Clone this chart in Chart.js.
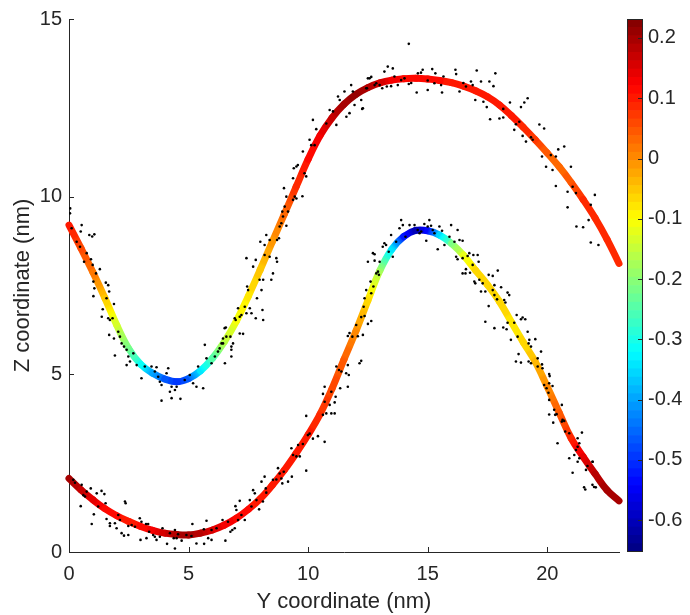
<!DOCTYPE html>
<html><head><meta charset="utf-8">
<script src="https://cdn.jsdelivr.net/npm/chart.js@4/dist/chart.umd.min.js"></script>
<style>
html,body{margin:0;padding:0;background:#fff;}
#wrap{position:relative;width:690px;height:615px;}
canvas{position:absolute;left:0;top:0;}
</style></head><body>
<div id="wrap"><canvas id="main" width="690" height="615"></canvas><canvas id="cbar" width="690" height="615"></canvas></div>
<script>
// ---- data ----
const curveX = [0,0.5,1,1.5,2,2.5,3,3.5,4,4.5,5,5.5,6,6.5,7,7.5,8,8.5,9,9.5,10,10.5,11,11.5,12,12.5,13,13.5,14,14.5,15,15.5,16,16.5,17,17.5,18,18.5,19,19.5,20,20.5,21,21.5,22,22.5,23];
const upperZ = [9.2,8.55,7.87,7.15,6.38,5.72,5.28,5.03,4.87,4.79,4.88,5.1,5.45,5.92,6.5,7.2,7.95,8.73,9.5,10.28,11.05,11.72,12.22,12.6,12.88,13.07,13.2,13.28,13.32,13.33,13.31,13.27,13.21,13.11,12.98,12.81,12.58,12.28,11.95,11.6,11.23,10.84,10.4,9.92,9.4,8.8,8.12];
const upperC = [0.10,0.06,0.02,-0.05,-0.14,-0.22,-0.31,-0.40,-0.46,-0.50,-0.46,-0.34,-0.25,-0.16,-0.11,-0.08,-0.05,-0.01,0.03,0.08,0.11,0.13,0.17,0.20,0.21,0.19,0.16,0.13,0.12,0.11,0.11,0.11,0.10,0.10,0.10,0.10,0.10,0.10,0.09,0.07,0.04,0.03,0.05,0.08,0.09,0.09,0.09];
const lowerZ = [2.07,1.75,1.47,1.22,1.02,0.86,0.72,0.61,0.53,0.49,0.48,0.53,0.62,0.76,0.95,1.2,1.5,1.88,2.3,2.78,3.3,3.88,4.6,5.42,6.22,7.08,7.92,8.52,8.88,9.05,9.04,8.92,8.68,8.35,7.93,7.52,7.05,6.47,5.9,5.35,4.65,3.92,3.2,2.68,2.2,1.74,1.44];
const lowerC = [0.20,0.17,0.14,0.12,0.11,0.10,0.11,0.13,0.16,0.19,0.20,0.18,0.15,0.13,0.12,0.11,0.10,0.10,0.10,0.10,0.10,0.08,0.06,0.04,0.00,-0.07,-0.18,-0.34,-0.52,-0.61,-0.53,-0.35,-0.22,-0.12,-0.07,-0.06,-0.06,-0.08,-0.07,-0.04,0.00,0.04,0.09,0.14,0.18,0.20,0.20];

const upperDots = [[0.04,9.53],[0.05,9.67],[0.11,9.11],[0.53,9.2],[0.49,9.02],[0.85,8.92],[0.97,8.88],[1.06,8.94],[0.32,8.73],[0.46,8.59],[0.63,8.17],[0.74,8.41],[0.92,8.24],[0.99,8.08],[1.13,7.84],[1.29,7.96],[1.02,7.61],[1.06,7.42],[1.02,7.2],[1.54,7.58],[1.64,7.51],[1.68,7.33],[1.57,7.14],[1.41,6.83],[1.88,6.98],[1.37,6.62],[1.64,6.58],[1.71,6.53],[1.82,6.58],[1.68,6.11],[1.88,6.01],[2.06,6.2],[2.13,6.06],[2.2,5.87],[1.92,5.53],[2.3,5.78],[2.41,5.69],[2.48,5.5],[2.41,5.26],[2.55,5.36],[2.69,5.59],[2.83,5.26],[3.03,4.89],[3.17,5.22],[3.45,5.22],[3.59,5.08],[3.66,5.2],[3.73,4.93],[3.8,4.79],[3.87,4.7],[4.15,5.17],[4.08,5.03],[4.29,4.65],[4.22,4.51],[4.43,4.56],[4.5,4.65],[3.87,4.26],[4.29,4.33],[4.66,4.31],[4.84,4.84],[5.05,4.98],[5.19,4.75],[5.33,4.65],[5.61,4.61],[5.4,5.22],[5.68,5.83],[5.75,5.45],[5.96,5.31],[6.1,5.5],[6.23,5.64],[6.3,5.73],[6.38,5.87],[6.44,6.01],[6.56,6.32],[6.52,5.31],[6.75,6.06],[6.79,5.69],[6.79,5.5],[6.97,6.53],[6.86,5.87],
[6.51,6.3],[6.58,6.06],[6.44,5.87],[6.79,5.78],[6.93,6.58],[7.07,6.86],[7.14,6.62],[7.21,6.67],[7.35,6.9],[7.42,6.72],[7.56,6.86],[7.63,6.72],[7.14,6.15],[7.28,6.14],[7.81,6.58],[8.09,6.81],[8.12,6.53],[7.42,8.27],[7.7,8.03],[7.81,8.22],[7.45,7.47],[7.49,7.37],[7.86,7.14],[7.97,7.66],[8.05,7.37],[8.12,7.66],[8.18,8.36],[8.39,8.31],[8.46,7.66],[8.53,7.84],[8.67,8.27],[8.7,8.17],[8.0,8.73],[8.18,8.64],[8.25,8.92],[8.39,8.78],[8.7,8.78],[8.78,8.83],[8.81,9.16],[8.88,9.25],[8.95,9.44],[9.09,9.18],[8.92,9.58],[9.02,9.72],[9.16,9.58],[9.09,10.0],[9.37,9.91],[9.44,10.0],[9.51,9.95],[9.76,10.01],[8.99,10.24],[9.37,10.52],[9.4,10.8],[9.51,10.85],[9.57,10.89],[9.85,10.66],[9.92,10.57],[9.78,11.27],[10.06,11.6],[10.13,11.45],[10.27,11.45],[10.34,11.9],[10.2,12.16],[10.76,12.06],[10.9,12.44],[11.04,12.4],[11.18,12.02],[11.25,12.82],[11.32,12.72],[11.52,12.96],[11.6,12.25],[11.73,12.35],[11.8,13.14],[11.87,12.96],[11.94,12.58],[12.22,12.72],[12.29,12.49],[12.43,13.05],[12.5,13.33],[12.64,13.37],[12.85,13.19],
[12.26,12.47],[12.46,13.05],[12.57,13.33],[12.78,13.14],[12.99,13.14],[13.1,13.05],[13.19,13.52],[13.33,13.66],[13.54,13.61],[13.29,13.1],[13.47,13.11],[13.61,13.38],[13.75,13.14],[13.89,13.28],[14.03,13.33],[14.21,14.3],[14.21,13.17],[14.31,13.2],[14.59,13.47],[14.54,12.93],[14.72,13.49],[14.79,13.57],[15.0,13.0],[15.0,13.27],[15.19,13.59],[15.32,13.47],[15.28,13.19],[15.56,13.14],[15.6,12.93],[15.66,13.38],[16.16,13.57],[16.19,13.45],[16.33,12.96],[16.49,13.2],[16.6,13.1],[16.81,13.24],[16.88,13.14],[16.99,12.72],[17.05,13.55],[17.23,13.24],[17.33,12.67],[17.47,12.52],[17.58,13.24],[17.75,13.11],[17.83,13.47],[17.61,12.18],[18.0,12.2],[18.16,12.47],[18.16,12.23],[18.44,12.65],[18.62,11.88],[18.69,12.04],[18.83,12.11],[18.9,12.52],[19.04,12.65],[19.18,12.77],[18.97,11.71],[19.11,11.55],[19.32,11.67],[19.39,11.6],[19.67,12.03],[19.87,11.92],[19.78,11.13],[19.95,10.84],[20.15,11.17],[20.22,10.75],[20.36,11.13],[20.46,11.33],[20.71,11.41],[20.36,10.3],[20.85,10.14],[20.99,10.84],[21.06,10.28],[21.2,10.1],[20.85,9.7],[21.22,9.16],[21.5,9.14],[21.73,9.34],[21.82,9.77],[21.99,10.05],[21.82,8.71],[22.14,8.64]];

const lowerDots = [[0.18,2.03],[0.25,1.95],[0.53,1.89],[0.6,1.6],[0.67,1.56],[0.74,1.7],[0.91,1.79],[0.49,1.29],[1.04,1.06],[0.95,0.79],[1.16,1.65],[1.22,1.28],[1.36,1.72],[1.48,1.63],[1.53,1.37],[1.57,0.93],[1.71,0.81],[1.71,0.73],[1.92,0.81],[2.06,1.04],[2.13,0.9],[1.99,0.67],[2.2,0.53],[2.34,1.42],[2.37,1.37],[2.3,0.46],[2.48,0.48],[2.48,0.73],[2.62,0.76],[2.76,0.71],[2.96,0.95],[3.03,0.85],[2.99,0.34],[3.22,0.79],[3.31,0.79],[3.35,0.57],[3.24,0.39],[3.52,0.48],[3.59,0.43],[3.66,0.34],[3.8,0.43],[3.91,0.67],[4.1,0.23],[4.22,0.53],[4.43,0.62],[4.38,0.39],[4.43,0.1],[4.5,0.39],[4.56,0.5],[4.71,0.32],[4.91,0.48],[5.16,0.79],[5.33,0.24],[5.12,0.45],[5.64,0.64],[5.65,0.23],[5.75,0.88],[5.82,0.39],[5.96,0.34],[5.96,0.62],[6.17,0.67],[6.42,0.9],[6.54,0.32],[6.65,0.85],[6.75,0.57],[6.83,0.62],[6.93,0.67],[6.96,1.29],[7.0,1.18],[7.14,1.44],[7.21,1.04],[7.07,0.9],[7.35,0.9],[7.56,1.46],[7.63,1.28],[7.7,1.74],[7.77,1.65],[7.84,1.46],[7.95,1.2],[8.05,1.98],[8.11,1.42],[8.23,1.79],[8.25,1.67],[8.18,2.12],[8.53,2.03],[8.67,2.04],[8.74,2.36],[8.81,2.21],[8.88,2.07],[8.92,1.93],[8.98,2.26],[9.16,1.98],[9.32,2.12],[9.3,2.92],[9.37,2.73],[9.51,2.69],[9.58,3.01],[9.65,2.69],[9.78,3.04],[9.92,2.29],[9.99,3.29],[10.06,3.33],[10.2,3.19],[10.41,3.26],
[9.92,3.83],[10.69,3.1],[10.62,3.86],[10.76,3.9],[10.97,3.9],[11.11,3.9],[10.69,4.23],[10.9,4.14],[11.11,4.21],[11.15,4.37],[10.62,4.45],[10.69,4.65],[10.97,4.51],[11.34,4.61],[11.66,4.65],[11.18,5.22],[11.29,5.12],[11.39,5.08],[11.59,5.03],[11.66,5.26],[11.7,4.98],[12.15,5.31],[12.22,5.38],[11.66,6.08],[11.73,6.16],[11.85,6.06],[12.08,6.07],[12.29,6.11],[12.01,6.39],[12.22,6.61],[12.36,6.64],[12.5,6.42],[12.64,6.5],[12.32,6.9],[12.36,7.14],[12.43,7.37],[12.61,7.61],[12.64,7.28],[12.73,7.47],[12.85,7.84],[12.92,7.89],[12.96,7.8],[12.78,8.2],[12.5,8.17],[12.71,8.41],[12.78,8.38],[12.99,8.17],[13.12,8.59],[13.19,8.69],[13.26,8.64],[13.37,8.45],[13.47,8.92],[13.54,8.31],[13.68,8.73],[13.82,9.11],[13.89,9.34],[13.96,9.2],[14.07,8.87],[14.24,9.2],[14.45,9.2],[14.58,9.06],[14.66,8.97],[14.73,9.02],[14.86,9.23],[14.94,8.76],[15.0,9.16],[15.07,9.34],[15.14,9.18],[15.21,9.06],[15.28,8.97],[15.42,8.52],[15.49,9.16],[15.6,9.04],[15.7,8.64],[15.91,8.87],[15.98,9.2],[16.12,8.73],[16.25,9.06],[16.33,8.78],[16.46,8.76],
[16.19,8.31],[16.25,8.24],[16.46,8.27],[16.67,8.33],[16.74,8.41],[16.91,8.36],[17.09,8.36],[17.13,8.17],[16.88,8.08],[16.6,7.96],[16.46,7.84],[16.58,7.84],[16.77,7.86],[16.95,7.61],[16.99,7.56],[17.16,7.66],[17.3,7.56],[17.55,7.8],[17.72,7.77],[17.93,7.92],[17.79,7.51],[17.23,7.33],[17.41,7.33],[17.72,7.37],[17.79,7.23],[17.9,7.11],[18.07,7.45],[18.2,7.09],[18.25,7.02],[18.34,7.3],[18.41,7.23],[17.55,6.92],[17.41,6.48],[17.79,6.3],[18.16,6.32],[18.3,6.27],[18.34,6.45],[18.48,5.97],[18.62,6.45],[18.72,6.67],[18.9,6.55],[18.97,6.6],[19.08,6.55],[19.18,6.2],[19.25,5.97],[19.22,5.87],[19.32,5.78],[19.5,5.99],[18.76,6.06],[18.8,5.57],[18.9,5.33],[18.69,5.36],[19.22,5.36],[19.32,5.31],[19.6,5.45],[19.74,5.64],[19.6,5.22],[19.78,5.28],[19.8,5.17],[20.08,5.01],[20.1,4.95],[19.87,4.7],[19.97,4.61],[20.08,4.75],[20.05,4.48],[20.22,4.67],[20.08,4.28],[20.61,4.14],[20.29,4.0],[20.39,3.88],[20.33,3.86],[20.08,3.87],[20.25,3.64],[20.64,3.72],[20.71,3.69],[20.75,3.39],[20.92,3.34],[20.61,3.67],[21.27,3.2],[21.34,3.06],[21.27,2.96],[21.2,2.87],[21.13,2.73],[21.45,3.36],[20.43,3.06],[20.92,2.64],[21.06,2.23],[21.27,2.54],[21.34,2.64],[21.62,2.31],[21.89,2.54],[21.68,2.42],[21.54,1.82],[21.59,1.76],[21.89,1.89],[22.03,1.82],[21.96,1.83],[21.9,2.54]];

const xTicks = [0,5,10,15,20];
const yTicks = [0,5,10,15];
const cbTicks = [0.2,0.1,0,-0.1,-0.2,-0.3,-0.4,-0.5,-0.6];
const cbTickLabels = ['0.2','0.1','0','-0.1','-0.2','-0.3','-0.4','-0.5','-0.6'];
const cbMin = -0.653, cbMax = 0.2315;
const xTitle = 'Y coordinate (nm)';
const yTitle = 'Z coordinate (nm)';

// ---- styling helpers ----
const INK = '#262626';
const FAMILY = "'Liberation Sans', Arial, Helvetica, sans-serif";
function jet(v){
  let t = (v - cbMin) / (cbMax - cbMin);
  t = Math.min(1, Math.max(0, t));
  const i = Math.min(63, Math.floor(t * 64));
  const q = (i + 0.5) / 64;
  const f = x => Math.round(255 * Math.min(1, Math.max(0, x)));
  return 'rgb(' + f(1.5 - Math.abs(4*q - 3)) + ',' + f(1.5 - Math.abs(4*q - 2)) + ',' + f(1.5 - Math.abs(4*q - 1)) + ')';
}
const mainCanvas = document.getElementById('main');
const ctx2d = mainCanvas.getContext('2d');
function segColor(cVals, tag){
  return sc => {
    const i0 = sc.p0DataIndex, i1 = sc.p1DataIndex;
    const g = ctx2d.createLinearGradient(sc.p0.x, sc.p0.y, sc.p1.x, sc.p1.y);
    const N = 8;
    for (let k = 0; k <= N; k++) {
      const f = k / N;
      g.addColorStop(f, jet(cVals[i0] + (cVals[i1] - cVals[i0]) * f));
    }
    g._id = tag + '-' + i0;
    return g;
  };
}
const inwardTicks = {
  id: 'inwardTicks',
  afterDraw(chart){
    const c = chart.ctx, a = chart.chartArea, xs = chart.scales.x, ys = chart.scales.y;
    c.save(); c.strokeStyle = INK; c.lineWidth = 1; c.beginPath();
    xTicks.forEach(v => { const p = Math.round(xs.getPixelForValue(v)) + 0.5; c.moveTo(p, a.bottom); c.lineTo(p, a.bottom - 5); });
    yTicks.forEach(v => { const p = Math.round(ys.getPixelForValue(v)) + 0.5; c.moveTo(a.left, p); c.lineTo(a.left + 5, p); });
    c.stroke(); c.restore();
  }
};

const curveStyle = { borderWidth: 7, borderCapStyle: 'round', borderJoinStyle: 'round', pointRadius: 0, tension: 0.4, borderColor: 'red', order: 1, clip: false };

new Chart(mainCanvas, {
  type: 'scatter',
  data: {
    datasets: [
      { data: upperDots.map(p => ({x: p[0], y: p[1]})), pointRadius: 1.3, pointBorderWidth: 0, pointBackgroundColor: '#000', order: 0 },
      { data: lowerDots.map(p => ({x: p[0], y: p[1]})), pointRadius: 1.3, pointBorderWidth: 0, pointBackgroundColor: '#000', order: 0 },
      Object.assign({ type: 'line', data: curveX.map((x, i) => ({x, y: upperZ[i]})), segment: { borderColor: segColor(upperC, 'u') } }, curveStyle),
      Object.assign({ type: 'line', data: curveX.map((x, i) => ({x, y: lowerZ[i]})), segment: { borderColor: segColor(lowerC, 'l') } }, curveStyle)
    ]
  },
  options: {
    responsive: false, animation: false, devicePixelRatio: 1,
    events: [],
    layout: { padding: { left: 0, right: 71, top: 19, bottom: 0 } },
    plugins: { legend: { display: false }, tooltip: { enabled: false } },
    scales: {
      x: {
        type: 'linear', min: 0, max: 23,
        afterBuildTicks: s => { s.ticks = xTicks.map(v => ({value: v})); },
        afterFit: s => { s.height = 63; },
        grid: { display: false, drawTicks: false },
        border: { display: true, color: INK, width: 1 },
        ticks: { color: INK, font: { family: FAMILY, size: 20 }, padding: 10, maxRotation: 0, autoSkip: false },
        title: { display: true, text: xTitle, color: INK, font: { family: FAMILY, size: 22 }, padding: { top: 0, bottom: 0 } }
      },
      y: {
        type: 'linear', min: 0, max: 15,
        afterBuildTicks: s => { s.ticks = yTicks.map(v => ({value: v})); },
        afterFit: s => { s.width = 69; },
        grid: { display: false, drawTicks: false },
        border: { display: true, color: INK, width: 1 },
        ticks: { color: INK, font: { family: FAMILY, size: 20 }, padding: 7, autoSkip: false },
        title: { display: true, text: yTitle, color: INK, font: { family: FAMILY, size: 22 }, padding: { top: 10, bottom: 0 } }
      }
    }
  },
  plugins: [inwardTicks]
});

// ---- colorbar ----
const cbLevels = [];
for (let i = 0; i < 64; i++) {
  const lo = cbMin + (cbMax - cbMin) * i / 64, hi = cbMin + (cbMax - cbMin) * (i + 1) / 64;
  cbLevels.push([lo, hi]);
}
const cbFrame = {
  id: 'cbFrame',
  afterDraw(chart){
    const c = chart.ctx, a = chart.chartArea, ys = chart.scales.y;
    c.save(); c.strokeStyle = INK; c.lineWidth = 1;
    c.strokeRect(Math.round(a.left) + 0.5, Math.round(a.top) + 0.5, Math.round(a.right - a.left) - 1, Math.round(a.bottom - a.top) - 1);
    c.beginPath();
    cbTicks.forEach(v => { const p = Math.round(ys.getPixelForValue(v)) + 0.5; c.moveTo(a.right - 5, p); c.lineTo(a.right, p); });
    c.stroke(); c.restore();
  }
};
new Chart(document.getElementById('cbar'), {
  type: 'bar',
  data: {
    labels: [''],
    datasets: cbLevels.map(l => ({ data: [l], backgroundColor: jet((l[0] + l[1]) / 2), borderWidth: 0, grouped: false, barPercentage: 1, categoryPercentage: 1 }))
  },
  options: {
    responsive: false, animation: false, devicePixelRatio: 1,
    events: [],
    layout: { padding: { left: 627, right: 0, top: 19, bottom: 63 } },
    plugins: { legend: { display: false }, tooltip: { enabled: false } },
    scales: {
      x: { display: false },
      y: {
        type: 'linear', position: 'right', min: cbMin, max: cbMax,
        afterBuildTicks: s => { s.ticks = cbTicks.map(v => ({value: v})); },
        afterFit: s => { s.width = 47; },
        grid: { display: false, drawTicks: false },
        border: { display: false },
        ticks: { color: INK, font: { family: FAMILY, size: 20 }, padding: 5, autoSkip: false,
          callback: v => cbTickLabels[cbTicks.indexOf(v)] }
      }
    }
  },
  plugins: [cbFrame]
});
</script>
</body></html>
